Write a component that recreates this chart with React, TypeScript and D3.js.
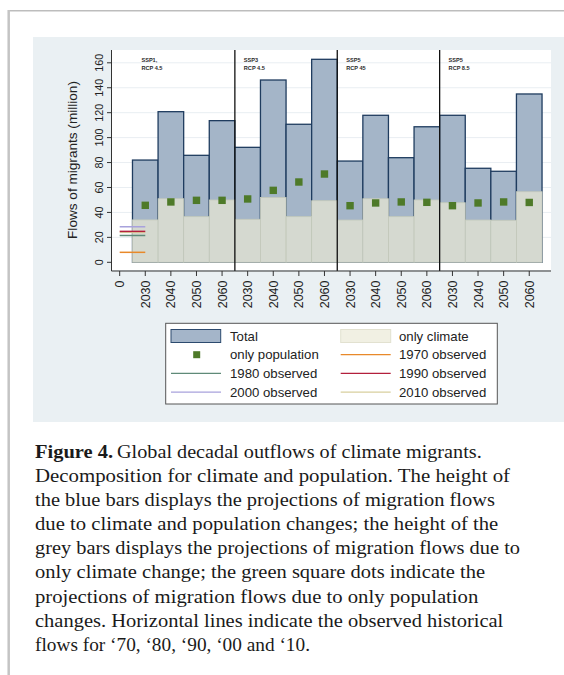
import React from "react";
import * as d3 from "d3";

const decades = ["2030", "2040", "2050", "2060"];
const panelLine1 = ["SSP1,", "SSP3", "SSP5", "SSP5"];
const panelLine2 = ["RCP 4.5", "RCP 4.5", "RCP 45", "RCP 8.5"];
const totalValues = [82, 120.8, 85.8, 113.6, 92.2, 146.2, 110.7, 162.8, 81.2, 117.9, 83.9, 108.7, 117.9, 75.4, 73, 135];
const climateValues = [34, 51, 36.6, 50, 34.5, 52, 36.6, 49.4, 33.9, 51, 36.6, 50, 47.8, 33.9, 33.7, 56.6];
const populationValues = [45.7, 48.4, 49.7, 49.7, 50.8, 57.7, 64.4, 70.8, 45.4, 47.6, 48.4, 48.1, 45.4, 47.6, 48.4, 48];
const observedYears = ["2010", "1970", "1980", "1990", "2000"];
const observedValues = [24, 8, 21.5, 24.8, 28.5];
const observedColors = ["#d8cf9e", "#e8892a", "#5f8a78", "#b3203c", "#a8a2dc"];
const yTicks = [0, 20, 40, 60, 80, 100, 120, 140, 160];

const captionLines = [
  "Global decadal outflows of climate migrants.",
  "Decomposition for climate and population. The height of",
  "the blue bars displays the projections of migration flows",
  "due to climate and population changes; the height of the",
  "grey bars displays the projections of migration flows due to",
  "only climate change; the green square dots indicate the",
  "projections of migration flows due to only population",
  "changes. Horizontal lines indicate the observed historical",
  "flows for \u201870, \u201880, \u201890, \u201800 and \u201810.",
];
const captionEnds = [481.7, 510, 495, 498.3, 520, 485, 478.3, 503.3, 310];

export default function App() {
  const x = d3.scaleLinear().domain([-0.3, 16.85]).range([112, 551]);
  const y = d3.scaleLinear().domain([0, 160]).range([262.3, 62.8]);
  const step = x(1) - x(0);
  const n = totalValues.length;
  const idx = d3.range(n);
  const xLabels = ["0", ...idx.map((i) => decades[i % 4])];
  const font = "'Liberation Sans', Arial, sans-serif";

  const legendRows = [
    { kind: "rect", label: "Total", col: 0, row: 0 },
    { kind: "climate", label: "only climate", col: 1, row: 0 },
    { kind: "square", label: "only population", col: 0, row: 1 },
    { kind: "line", color: "#e8892a", label: "1970 observed", col: 1, row: 1 },
    { kind: "line", color: "#5f8a78", label: "1980 observed", col: 0, row: 2 },
    { kind: "line", color: "#b3203c", label: "1990 observed", col: 1, row: 2 },
    { kind: "line", color: "#a8a2dc", label: "2000 observed", col: 0, row: 3 },
    { kind: "line", color: "#d8cf9e", label: "2010 observed", col: 1, row: 3 },
  ];
  const colSym = [171, 340.7];
  const colText = [230, 399];
  const rowY = [336, 354.7, 373.4, 392.1];

  return (
    <svg
      width={564}
      height={675}
      style={{ position: "absolute", left: 0, top: 0, background: "#fff" }}
      fontFamily={font}
    >
      {/* outer frame */}
      <line x1={8.7} x2={564} y1={10.7} y2={10.7} stroke="#bdbdbd" strokeWidth={1.5} />
      <line x1={8.7} x2={8.7} y1={10} y2={675} stroke="#c4c4c4" strokeWidth={2.5} />
      {/* chart background */}
      <rect x={33} y={37} width={531} height={385} fill="#eaf0f3" />
      <rect x={112} y={50} width={439} height={220} fill="#ffffff" />
      {/* gridlines */}
      {yTicks.filter((t) => t > 0).map((t) => (
        <line key={t} x1={112} x2={551} y1={y(t)} y2={y(t)} stroke="#e9eef2" strokeWidth={1} />
      ))}
      {/* total bars */}
      {idx.map((i) => (
        <rect
          key={"t" + i}
          x={x(i + 1) - step / 2}
          y={y(totalValues[i])}
          width={step}
          height={y(0) - y(totalValues[i])}
          fill="#a4b5c8"
          stroke="#1f3c5f"
          strokeWidth={1.3}
        />
      ))}
      {/* climate bars */}
      {idx.map((i) => (
        <rect
          key={"c" + i}
          x={x(i + 1) - step / 2}
          y={y(climateValues[i])}
          width={step}
          height={y(0) - y(climateValues[i])}
          fill="#d5d9d0"
          stroke="#c3c9bb"
          strokeWidth={0.8}
        />
      ))}
      {/* population squares */}
      {idx.map((i) => (
        <rect
          key={"p" + i}
          x={x(i + 1) - 3.7}
          y={y(populationValues[i]) - 3.7}
          width={7.4}
          height={7.4}
          fill="#4e7a29"
        />
      ))}
      {/* observed lines */}
      {observedValues.map((v, k) => (
        <line
          key={observedYears[k]}
          x1={x(0)}
          x2={x(1)}
          y1={y(v)}
          y2={y(v)}
          stroke={observedColors[k]}
          strokeWidth={1.5}
        />
      ))}
      {/* panel separators */}
      {[4.5, 8.5, 12.5].map((s) => (
        <line key={s} x1={x(s)} x2={x(s)} y1={50} y2={271} stroke="#111" strokeWidth={1.3} />
      ))}
      {/* panel labels */}
      {panelLine1.map((l, p) => (
        <g key={"pl" + p} fontSize={5.6} fill="#2a2a2a" fontWeight="bold">
          <text x={x(p * 4 + 0.85)} y={62.3}>{l}</text>
          <text x={x(p * 4 + 0.85)} y={70.3}>{panelLine2[p]}</text>
        </g>
      ))}
      {/* axes */}
      <line x1={111.5} x2={111.5} y1={50} y2={271} stroke="#333" strokeWidth={1} />
      <line x1={111.5} x2={551} y1={271} y2={271} stroke="#333" strokeWidth={1} />
      {yTicks.map((t) => (
        <g key={"yt" + t}>
          <line x1={107} x2={111.5} y1={y(t)} y2={y(t)} stroke="#333" strokeWidth={1} />
          <text
            transform={`translate(103.3,${y(t)}) rotate(-90)`}
            textAnchor="middle"
            fontSize={10.8}
            fill="#222"
          >
            {t}
          </text>
        </g>
      ))}
      {xLabels.map((l, i) => (
        <g key={"xt" + i}>
          <line x1={x(i)} x2={x(i)} y1={271} y2={276} stroke="#333" strokeWidth={1} />
          <text
            transform={`translate(${x(i) + 4.5},${280.5}) rotate(-90)`}
            textAnchor="end"
            fontSize={12.5}
            fill="#222"
          >
            {l}
          </text>
        </g>
      ))}
      <text
        transform={`translate(77,160) rotate(-90)`}
        textAnchor="middle"
        fontSize={13.6}
        fill="#222"
      >
        Flows of migrants (million)
      </text>
      {/* legend */}
      <rect x={165.7} y={323.3} width={331.6} height={80.7} fill="#fff" stroke="#555" strokeWidth={1} />
      {legendRows.map((r, k) => {
        const sx = colSym[r.col];
        const cy = rowY[r.row];
        let sym = null;
        if (r.kind === "rect")
          sym = <rect x={sx} y={cy - 6.5} width={49.7} height={13} fill="#a4b5c9" stroke="#2c4a6e" strokeWidth={1} />;
        else if (r.kind === "climate")
          sym = <rect x={sx} y={cy - 6.5} width={50} height={13} fill="#f1f0e3" stroke="#e2e1d0" strokeWidth={1} />;
        else if (r.kind === "square")
          sym = <rect x={sx + 25.7 - 3.5} y={cy - 3.5} width={7} height={7} fill="#4e7a29" />;
        else
          sym = <line x1={sx} x2={sx + 50} y1={cy} y2={cy} stroke={r.color} strokeWidth={1.3} />;
        return (
          <g key={"lg" + k}>
            {sym}
            <text x={colText[r.col]} y={cy + 4.6} fontSize={13.2} fill="#222">
              {r.label}
            </text>
          </g>
        );
      })}
      {/* caption */}
      <g fontFamily="'Liberation Serif', 'Times New Roman', serif" fontSize={18.5} fill="#1a1a1a">
        <text x={35} y={457.7} fontWeight="bold" textLength={78} lengthAdjust="spacingAndGlyphs">
          Figure 4.
        </text>
        {captionLines.map((line, i) => {
          const x0 = i === 0 ? 117 : 35;
          return (
            <text
              key={"cap" + i}
              x={x0}
              y={457.7 + i * 24.15}
              textLength={captionEnds[i] - x0}
              lengthAdjust="spacingAndGlyphs"
            >
              {line}
            </text>
          );
        })}
      </g>
    </svg>
  );
}
